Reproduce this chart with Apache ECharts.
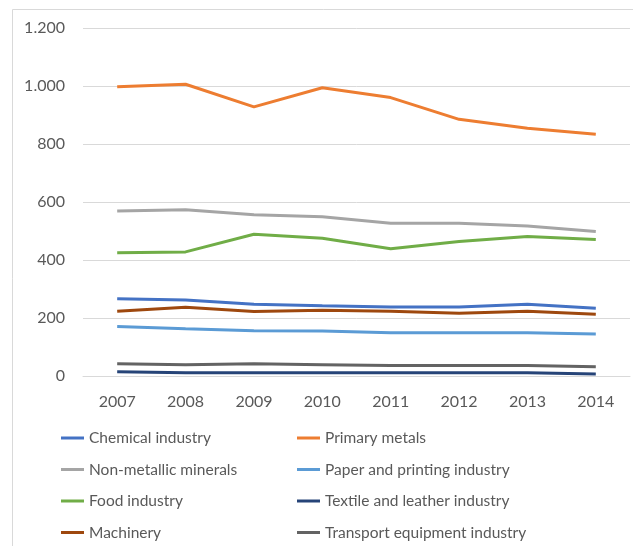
<!DOCTYPE html>
<html>
<head>
<meta charset="utf-8">
<script src="https://cdn.jsdelivr.net/npm/echarts@6/dist/echarts.min.js"></script>
<style>
html,body{margin:0;padding:0;background:#fff;}
#c{width:633px;height:546px;}
</style>
</head>
<body>
<div id="c"></div>
<script>
const years = ['2007','2008','2009','2010','2011','2012','2013','2014'];
const yTicks = [0, 200, 400, 600, 800, 1000, 1200];

const chemical = [266, 262, 247, 242, 238, 238, 247, 234];
const primaryMetals = [997, 1006, 928, 994, 960, 885, 854, 834];
const nonMetallic = [569, 573, 556, 549, 527, 527, 517, 498];
const paper = [171, 163, 156, 155, 149, 149, 149, 145];
const food = [425, 428, 489, 475, 439, 464, 481, 471];
const textile = [15, 11, 11, 11, 11, 11, 11, 7];
const machinery = [223, 237, 222, 227, 223, 216, 223, 213];
const transport = [42, 39, 42, 39, 36, 36, 36, 32];

const seriesDefs = [
  {name: 'Chemical industry', data: chemical, color: '#4472C4'},
  {name: 'Primary metals', data: primaryMetals, color: '#ED7D31'},
  {name: 'Non-metallic minerals', data: nonMetallic, color: '#A5A5A5'},
  {name: 'Paper and printing industry', data: paper, color: '#5B9BD5'},
  {name: 'Food industry', data: food, color: '#70AD47'},
  {name: 'Textile and leather industry', data: textile, color: '#264478'},
  {name: 'Machinery', data: machinery, color: '#9E480E'},
  {name: 'Transport equipment industry', data: transport, color: '#636363'}
];

const FONT = 'Lato, "Open Sans", sans-serif';
const chart = echarts.init(document.getElementById('c'), null, {renderer: 'canvas'});

const legendCommon = {
  orient: 'vertical',
  top: 430,
  height: 115,
  itemGap: 15.5,
  itemWidth: 23,
  itemHeight: 3,
  icon: 'rect',
  padding: 0,
  textStyle: {fontFamily: FONT, fontSize: 15.5, color: '#595959'},
  selectedMode: false
};

chart.setOption({
  animation: false,
  backgroundColor: '#fff',
  graphic: [{
    type: 'rect',
    shape: {x: 12.5, y: 9.5, width: 640, height: 560},
    style: {fill: 'none', stroke: '#D9D9D9', lineWidth: 1},
    silent: true, z: -1
  }],
  grid: {left: 83, right: 3, top: 28, bottom: 170, containLabel: false},
  legend: [
    Object.assign({}, legendCommon, {left: 61, data: ['Chemical industry','Non-metallic minerals','Food industry','Machinery']}),
    Object.assign({}, legendCommon, {left: 297, data: ['Primary metals','Paper and printing industry','Textile and leather industry','Transport equipment industry']})
  ],
  xAxis: {
    type: 'category',
    data: years,
    boundaryGap: true,
    axisLine: {show: true, lineStyle: {color: '#D9D9D9', width: 1}},
    axisTick: {show: false},
    axisLabel: {fontFamily: FONT, fontSize: 16, color: '#595959', margin: 18}
  },
  yAxis: {
    type: 'value',
    min: yTicks[0],
    max: yTicks[yTicks.length - 1],
    interval: 200,
    axisLine: {show: false},
    axisTick: {show: false},
    splitLine: {lineStyle: {color: '#D9D9D9', width: 1}},
    axisLabel: {
      fontFamily: FONT, fontSize: 16, color: '#595959', margin: 18,
      formatter: v => String(v).replace(/\B(?=(\d{3})+(?!\d))/g, '.')
    }
  },
  series: seriesDefs.map(s => ({
    name: s.name,
    type: 'line',
    data: s.data,
    symbol: 'none',
    smooth: false,
    itemStyle: {color: s.color},
    lineStyle: {color: s.color, width: 3}
  }))
});
</script>
</body>
</html>
